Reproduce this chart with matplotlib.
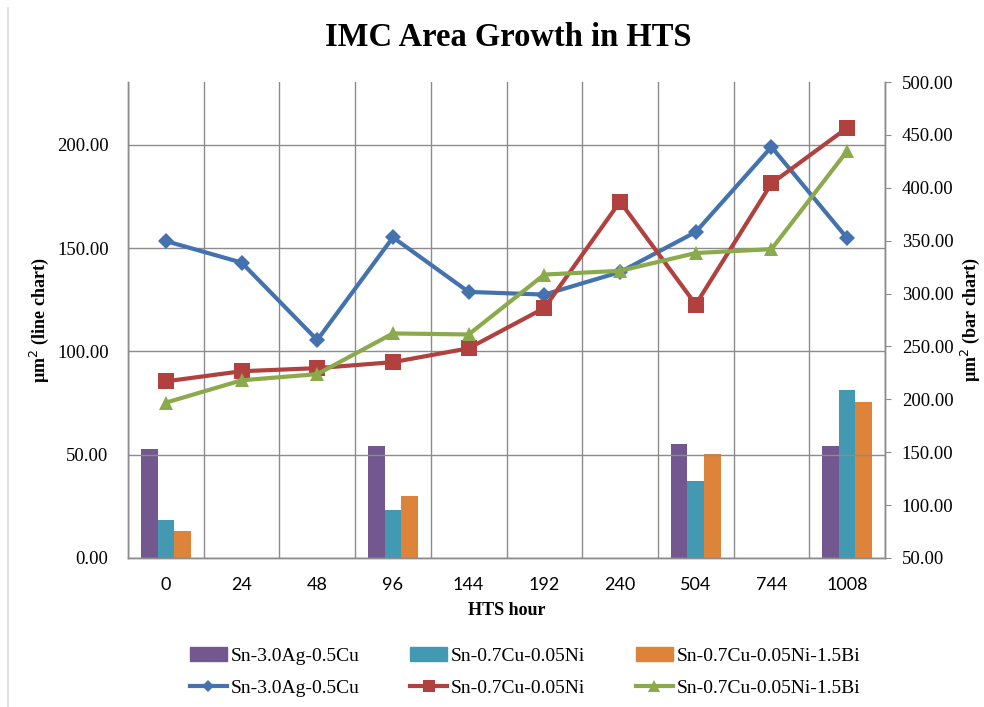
import numpy as np
import matplotlib
matplotlib.use('Agg')
from matplotlib import pyplot as plt
from matplotlib.lines import Line2D

hours = ['0', '24', '48', '96', '144', '192', '240', '504', '744', '1008']
alloys = ['Sn-3.0Ag-0.5Cu', 'Sn-0.7Cu-0.05Ni', 'Sn-0.7Cu-0.05Ni-1.5Bi']

# line chart (left axis)
sac_line = [153.4, 143.0, 105.5, 155.2, 128.8, 127.5, 138.4, 157.8, 199.0, 154.8]
cun_line = [85.5, 90.4, 91.9, 94.8, 101.5, 121.0, 172.5, 122.7, 181.3, 208.2]
cub_line = [75.2, 86.0, 89.0, 108.7, 108.2, 137.2, 139.0, 147.6, 149.5, 197.0]

# bar chart (right axis), only measured at some hours
bar_hours = ['0', '96', '504', '1008']
sac_bar = [153.0, 156.0, 157.5, 155.5]
cun_bar = [86.0, 95.5, 123.0, 209.0]
cub_bar = [75.5, 109.0, 148.0, 197.5]

line_cols = ['#4472AE', '#B0413E', '#8BAA4B']
bar_cols = ['#72588F', '#4299B1', '#DD843A']
grid_col = '#8C8C8C'

plt.rcParams['font.family'] = ['Liberation Serif', 'DejaVu Serif']

fig = plt.figure(figsize=(9.84, 7.07), dpi=100)
ax = fig.add_axes([128/984, 1-558/707, (885-128)/984, (558-82)/707])
ax2 = ax.twinx()

x = np.arange(len(hours))
bx = np.array([hours.index(h) for h in bar_hours])
w = 0.22
for i, vals in enumerate([sac_bar, cun_bar, cub_bar]):
    ax2.bar(bx + (i-1)*w, np.array(vals)-50, w, bottom=50, color=bar_cols[i],
            edgecolor='none', zorder=2)

markers = ['D', 's', '^']
msizes = [8, 11, 10]
for i, vals in enumerate([sac_line, cun_line, cub_line]):
    ax.plot(x, vals, color=line_cols[i], lw=3, marker=markers[i], ms=msizes[i],
            markeredgewidth=0, zorder=5)

# put lines above bars
ax.set_zorder(ax2.get_zorder()+1)
ax.patch.set_visible(False)

ax.set_xlim(-0.5, len(hours)-0.5)
ax.set_ylim(0, 230.4)
ax2.set_ylim(50, 500)
ax.set_yticks(np.arange(0, 201, 50))
ax.set_yticklabels(['%.2f' % v for v in np.arange(0, 201, 50)], fontsize=13.5)
ax2.set_yticks(np.arange(50, 501, 50))
ax2.set_yticklabels(['%.2f' % v for v in np.arange(50, 501, 50)], fontsize=13.5)

ax.set_xticks(x)
ax.set_xticklabels(hours, fontsize=13, family='Lato')
ax.set_xticks(np.arange(-0.5, len(hours)), minor=True)
ax.tick_params(axis='x', which='both', length=0, pad=14)
ax.tick_params(axis='y', length=0, pad=14)
ax2.tick_params(axis='y', length=4, color=grid_col, pad=8)

ax.grid(True, axis='y', color=grid_col, lw=1)
ax.grid(True, axis='x', which='minor', color=grid_col, lw=1)
ax.grid(False, axis='x', which='major')
ax.set_axisbelow(True)

for a in (ax, ax2):
    a.spines['top'].set_visible(False)
    for s in ('left', 'right', 'bottom'):
        a.spines[s].set_color(grid_col)
        a.spines[s].set_linewidth(1)

ax.set_xlabel('HTS hour', fontsize=13, fontweight='bold', labelpad=6)
ax.set_ylabel('µm$^2$ (line chart)', fontsize=13, fontweight='bold', labelpad=4)
ax2.set_ylabel('µm$^2$ (bar chart)', fontsize=13, fontweight='bold', labelpad=4,
               rotation=90)
ax2.yaxis.set_label_position('right')

fig.text(508/984, 1-38/707, 'IMC Area Growth in HTS', fontsize=23.5,
         fontweight='bold', ha='center', va='center')

# legend: top row bars, bottom row lines
handles = []
labels = []
for i in range(3):
    handles.append(plt.Rectangle((0, 0), 1, 1, color=bar_cols[i]))
    labels.append(alloys[i])
    handles.append(Line2D([], [], color=line_cols[i], lw=3, marker=markers[i],
                          ms=msizes[i]*0.8, markeredgewidth=0))
    labels.append(alloys[i])
fig.legend(handles, labels, ncol=3, frameon=False, fontsize=14,
           loc='center', bbox_to_anchor=(525/984, 1-672/707),
           handlelength=1.9, handletextpad=0.2, columnspacing=2.6,
           labelspacing=0.75)

# chart area border on the left
fig.add_artist(Line2D([8/984, 8/984], [0, 1-8/707], color='#D9D9D9', lw=1.2))

fig.savefig('out.png', dpi=100)
